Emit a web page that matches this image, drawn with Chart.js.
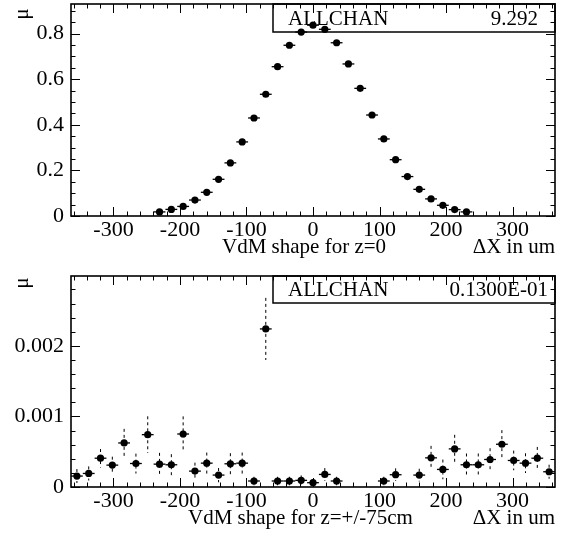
<!DOCTYPE html>
<html>
<head>
<meta charset="utf-8">
<script src="https://cdn.jsdelivr.net/npm/chart.js@4"></script>
<style>
  body { margin: 0; background: #fff; }
  canvas { position: absolute; left: 0; }
  #top { top: 0; }
  #bottom { top: 268px; }
</style>
</head>
<body>
<canvas id="top" width="569" height="268"></canvas>
<canvas id="bottom" width="569" height="268"></canvas>
<script>
// centros de los bins (41 bins, ancho 17.75 um)
const binCenters = [-355, -337.25, -319.5, -301.75, -284, -266.25, -248.5, -230.75, -213, -195.25,
  -177.5, -159.75, -142, -124.25, -106.5, -88.75, -71, -53.25, -35.5, -17.75, 0,
  17.75, 35.5, 53.25, 71, 88.75, 106.5, 124.25, 142, 159.75, 177.5,
  195.25, 213, 230.75, 248.5, 266.25, 284, 301.75, 319.5, 337.25, 355];
const binWidth = 17.75;

// z=0
const shapeZ0 = [null, null, null, null, null, null, null,
  0.018, 0.029, 0.042, 0.070, 0.104, 0.161, 0.233, 0.325, 0.430, 0.534, 0.655, 0.749, 0.807,
  0.837,
  0.819, 0.760, 0.667, 0.560, 0.443, 0.338, 0.247, 0.173, 0.117, 0.075, 0.047, 0.028, 0.018,
  null, null, null, null, null, null, null];

// z=+/-75cm
const shapeZ75 = [0.000155, 0.000192, 0.000408, 0.00031, 0.000624, 0.000333, 0.000742, 0.000324,
  0.000315, 0.000751, 0.000225, 0.000338, 0.000169, 0.000329, 0.000338, 0.000085, 0.00224,
  0.000085, 0.000085, 0.000094, 0.000061, 0.000178, 0.000085, null, null, null, 0.000085,
  0.000174, null, 0.000169, 0.000413, 0.000249, 0.00054, 0.000315, 0.000315, 0.00039,
  0.000606, 0.000376, 0.000338, 0.000408, 0.000216];
const errZ75 = [0.0001, 0.0001, 0.00013, 0.00012, 0.0002, 0.00014, 0.00026, 0.00016,
  0.00015, 0.00025, 0.00012, 0.00015, 0.0001, 0.00015, 0.00015, 0.00006, 0.00044,
  0.00006, 0.00006, 0.00007, 0.00005, 0.00009, 0.00006, null, null, null, 0.00006,
  0.00009, null, 0.00009, 0.00017, 0.00014, 0.0002, 0.00016, 0.00016, 0.00016,
  0.0002, 0.00014, 0.00014, 0.00016, 0.0001];

// etiquetas de los ejes
const xTicks = [-300, -200, -100, 0, 100, 200, 300];
const yTicksZ0 = [0, 0.2, 0.4, 0.6, 0.8];
const yTicksZ75 = [0, 0.001, 0.002];

Chart.defaults.font.family = '"Liberation Serif", "Times New Roman", serif';
Chart.defaults.color = '#000';

const SERIF = '"Liberation Serif", serif';

const panel = {
  id: 'panel',
  beforeDatasetsDraw(chart, args, o) {
    const { ctx, chartArea: a, scales: { x, y } } = chart;
    ctx.save();
    // caja ALLCHAN
    ctx.fillStyle = '#fff';
    ctx.fillRect(273, a.top, a.right - 273, o.boxH);
    ctx.strokeStyle = '#000';
    ctx.lineWidth = 1.5;
    ctx.strokeRect(273, a.top, a.right - 273, o.boxH);
    ctx.fillStyle = '#000';
    ctx.font = '21px ' + SERIF;
    ctx.textBaseline = 'middle';
    ctx.textAlign = 'left';
    ctx.fillText('ALLCHAN', 288, a.top + o.boxH / 2 + 1);
    ctx.textAlign = 'right';
    ctx.fillText(o.stat, o.statRight, a.top + o.boxH / 2 + 1);

    // barras de error
    ctx.strokeStyle = '#000';
    ctx.lineWidth = 1.3;
    o.values.forEach((v, i) => {
      if (v == null) return;
      const py = y.getPixelForValue(v);
      ctx.setLineDash([]);
      ctx.beginPath();
      ctx.moveTo(x.getPixelForValue(binCenters[i] - binWidth / 2), py);
      ctx.lineTo(x.getPixelForValue(binCenters[i] + binWidth / 2), py);
      ctx.stroke();
      if (o.errors && o.errors[i] != null) {
        const px = x.getPixelForValue(binCenters[i]);
        ctx.setLineDash([3, 3]);
        ctx.lineWidth = 1;
        ctx.beginPath();
        ctx.moveTo(px, y.getPixelForValue(v + o.errors[i]));
        ctx.lineTo(px, Math.min(y.getPixelForValue(v - o.errors[i]), a.bottom));
        ctx.stroke();
        ctx.lineWidth = 1.3;
      }
    });
    ctx.restore();
  },
  afterDraw(chart, args, o) {
    const { ctx, chartArea: a, scales: { x, y } } = chart;
    ctx.save();
    ctx.strokeStyle = '#000';
    ctx.lineWidth = 1;
    // marcas hacia dentro en los cuatro lados
    ctx.beginPath();
    for (let v = -360; v <= 360; v += 20) {
      const px = Math.round(x.getPixelForValue(v)) + 0.5;
      const len = v % 100 === 0 ? 9 : 4.5;
      ctx.moveTo(px, a.bottom); ctx.lineTo(px, a.bottom - len);
      ctx.moveTo(px, a.top); ctx.lineTo(px, a.top + len);
    }
    for (let k = 0; k * o.yMinor <= y.max; k++) {
      const py = Math.round(y.getPixelForValue(k * o.yMinor)) + 0.5;
      const len = k % o.yMajorEvery === 0 ? 9 : 4.5;
      ctx.moveTo(a.left, py); ctx.lineTo(a.left + len, py);
      ctx.moveTo(a.right, py); ctx.lineTo(a.right - len, py);
    }
    ctx.stroke();
    // marco
    ctx.lineWidth = 1.6;
    ctx.strokeRect(a.left, a.top, a.right - a.left, a.bottom - a.top);

    // titulos
    ctx.fillStyle = '#000';
    ctx.font = '21px ' + SERIF;
    ctx.textBaseline = 'alphabetic';
    ctx.textAlign = 'left';
    ctx.fillText(o.title, o.titleX, o.titleY);
    ctx.textAlign = 'right';
    ctx.fillText('\u0394X in um', a.right, o.titleY);
    // mu girada
    ctx.translate(22, o.muY);
    ctx.rotate(-Math.PI / 2);
    ctx.textAlign = 'center';
    ctx.textBaseline = 'middle';
    ctx.fillText('\u03bc', 0, 0);
    ctx.restore();
  }
};

function makePanel(id, values, errors, cfg) {
  const ctx = document.getElementById(id).getContext('2d');
  return new Chart(ctx, {
    type: 'scatter',
    data: {
      datasets: [{
        data: binCenters.map((c, i) => ({ x: c, y: values[i] })),
        pointRadius: 3.6,
        pointBackgroundColor: '#000',
        pointBorderColor: '#000',
        pointBorderWidth: 0,
        showLine: false
      }]
    },
    options: {
      responsive: false,
      animation: false,
      devicePixelRatio: 1,
      layout: { padding: { top: cfg.padTop, right: 14, left: 0, bottom: 0 } },
      plugins: {
        legend: { display: false },
        tooltip: { enabled: false },
        panel: {
          values: values, errors: errors, stat: cfg.stat, statRight: cfg.statRight,
          boxH: cfg.boxH, title: cfg.title, titleX: cfg.titleX, titleY: cfg.titleY,
          muY: cfg.muY, yMinor: cfg.yMinor, yMajorEvery: cfg.yMajorEvery
        }
      },
      scales: {
        x: {
          type: 'linear',
          min: -363.875,
          max: 363.875,
          grid: { display: false, drawTicks: false },
          border: { display: false },
          afterBuildTicks: s => { s.ticks = xTicks.map(v => ({ value: v })); },
          ticks: { font: { size: 22 }, padding: cfg.xPad, maxRotation: 0, autoSkip: false },
          afterFit: s => { s.height = cfg.xHeight; s.paddingLeft = 0; s.paddingRight = 0; }
        },
        y: {
          type: 'linear',
          min: 0,
          max: cfg.yMax,
          grid: { display: false, drawTicks: false },
          border: { display: false },
          afterBuildTicks: s => { s.ticks = cfg.yTicks.map(v => ({ value: v })); },
          ticks: { font: { size: 22 }, padding: 7, autoSkip: false, callback: v => String(v) },
          afterFit: s => { s.width = 71; s.paddingTop = 0; s.paddingBottom = 0; }
        }
      }
    },
    plugins: [panel]
  });
}

makePanel('top', shapeZ0, null, {
  padTop: 4, xHeight: 52, xPad: 1, yMax: 0.93, yTicks: yTicksZ0,
  yMinor: 0.05, yMajorEvery: 4,
  stat: '9.292', statRight: 538, boxH: 28,
  title: 'VdM shape for z=0', titleX: 222, titleY: 253, muY: 14
});

makePanel('bottom', shapeZ75, errZ75, {
  padTop: 8, xHeight: 49, xPad: 1, yMax: 0.00299, yTicks: yTicksZ75,
  yMinor: 0.0002, yMajorEvery: 5,
  stat: '0.1300E-01', statRight: 548, boxH: 27,
  title: 'VdM shape for z=+/-75cm', titleX: 188, titleY: 256, muY: 15
});
</script>
</body>
</html>
